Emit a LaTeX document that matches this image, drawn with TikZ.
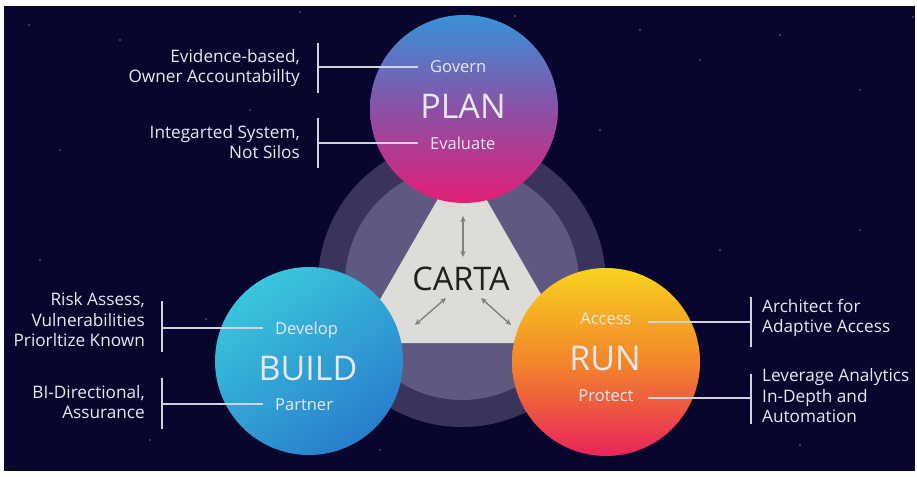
\documentclass[tikz,border=0pt]{standalone}
\usepackage{fontspec}
\setmainfont{Open Sans}
\usetikzlibrary{arrows.meta}
\definecolor{bg}{RGB}{9,6,46}
\definecolor{ringout}{RGB}{58,52,92}
\definecolor{ringin}{RGB}{95,88,128}
\definecolor{tri}{RGB}{221,220,214}
\definecolor{linec}{RGB}{210,210,222}
\definecolor{txt}{RGB}{232,232,240}
\definecolor{arr}{RGB}{128,128,128}
\definecolor{star}{RGB}{110,108,150}
\definecolor{planT}{RGB}{56,146,216}
\definecolor{planM}{RGB}{138,80,166}
\definecolor{planB}{RGB}{228,30,120}
\definecolor{buildT}{RGB}{58,198,220}
\definecolor{buildB}{RGB}{40,126,204}
\definecolor{runT}{RGB}{248,212,30}
\definecolor{runM}{RGB}{242,134,42}
\definecolor{runB}{RGB}{232,36,90}
\begin{document}
\begin{tikzpicture}[x=1pt,y=-1pt,
  bigc/.style={circle, minimum size=188pt, inner sep=0pt},
  bigtxt/.style={anchor=base, text=txt, inner sep=0pt, font=\fontsize{34}{34}\selectfont},
  lbl/.style={text=txt, inner sep=0pt, font=\fontsize{16.5}{20}\selectfont},
  side/.style={text=txt, inner sep=0pt, font=\fontsize{17.2}{20.5}\selectfont},
  conn/.style={draw=linec, line width=1.5pt},
  arrowc/.style={draw=arr, line width=1.4pt, {Stealth[length=6pt,width=5.5pt]}-{Stealth[length=6pt,width=5.5pt]}},
  stardot/.style={fill=star}
]
\useasboundingbox (0,0) rectangle (917,476);
\fill[white] (0,0) rectangle (917,476);
\fill[bg] (4,6) rectangle (915,471);
% stars
\foreach \sx/\sy in {29/25, 913/17, 515/16, 448/358, 206/319, 120/40, 300/12, 640/30, 700/60, 780/35, 860/90, 600/130, 250/110, 60/150, 40/260, 860/230, 720/250, 150/440, 800/445, 380/450}
  \fill[stardot] (\sx,\sy) circle[radius=0.9];
% background rings and triangle
\fill[ringout] (462,283) circle[radius=144];
\fill[ringin] (462,283) circle[radius=117];
\fill[tri] (462,157) -- (355,343) -- (569,343) -- cycle;
% centre
\node[anchor=base, inner sep=0pt, text=black!88, font=\fontsize{32.5}{32.5}\selectfont] (carta) at (461,290) {CARTA};
\coordinate (a1) at (463,216);
\coordinate (a2) at (463,257);
\coordinate (b1) at (446,298);
\coordinate (b2) at (415,325);
\coordinate (c1) at (481,298);
\coordinate (c2) at (511,325);
\draw[arrowc] (a1) -- (a2);
\draw[arrowc] (b1) -- (b2);
\draw[arrowc] (c1) -- (c2);
% circles
\node[bigc, top color=planT, bottom color=planB, middle color=planM] (plan) at (464,109) {};
\node[bigc, top color=buildT, bottom color=buildB, shading angle=35] (build) at (309,361) {};
\node[bigc, top color=runT, bottom color=runB, middle color=runM] (run) at (606,362) {};
% circle texts
\node[bigtxt] (plantxt) at (463,118) {PLAN};
\node[bigtxt] (buildtxt) at (308,380) {BUILD};
\node[bigtxt] (runtxt) at (605,370) {RUN};
\node[lbl, anchor=base west] (govern) at (430,73) {Govern};
\node[lbl, anchor=base west] (evaluate) at (430,149) {Evaluate};
\node[lbl, anchor=base west] (develop) at (275,334) {Develop};
\node[lbl, anchor=base west] (partner) at (275,410) {Partner};
\node[lbl, anchor=base] (access) at (606,324) {Access};
\node[lbl, anchor=base] (protect) at (606,401) {Protect};
% side texts
\node[side, anchor=east, align=right] (ev) at (300,68) {Evidence-based,\\Owner Accountabillty};
\node[side, anchor=east, align=right] (ig) at (300,142) {Integarted System,\\Not Silos};
\node[side, anchor=east, align=right] (risk) at (145,320) {Risk Assess,\\Vulnerabilities\\Priorltize Known};
\node[side, anchor=east, align=right] (bi) at (145,402) {BI-Directional,\\Assurance};
\node[side, anchor=west, align=left] (arch) at (762,318) {Architect for\\Adaptive Access};
\node[side, anchor=west, align=left] (lev) at (762,396) {Leverage Analytics\\In-Depth and\\Automation};
% bars
\coordinate (p1t) at (318,43);  \coordinate (p1b) at (318,93);  \coordinate (p1m) at (318,67);
\coordinate (p2t) at (318,118); \coordinate (p2b) at (318,168); \coordinate (p2m) at (318,143);
\coordinate (q1t) at (162,301); \coordinate (q1b) at (162,352); \coordinate (q1m) at (162,328);
\coordinate (q2t) at (162,378); \coordinate (q2b) at (162,429); \coordinate (q2m) at (162,404);
\coordinate (r1t) at (751,297); \coordinate (r1b) at (751,347); \coordinate (r1m) at (751,322);
\coordinate (r2t) at (751,374); \coordinate (r2b) at (751,424); \coordinate (r2m) at (751,398);
\draw[conn] (p1t) -- (p1b);
\draw[conn] (p2t) -- (p2b);
\draw[conn] (q1t) -- (q1b);
\draw[conn] (q2t) -- (q2b);
\draw[conn] (r1t) -- (r1b);
\draw[conn] (r2t) -- (r2b);
\draw[conn] (p1m) -- ([xshift=-12pt]govern.west |- p1m);
\draw[conn] (p2m) -- ([xshift=-12pt]evaluate.west |- p2m);
\draw[conn] (q1m) -- ([xshift=-12pt]develop.west |- q1m);
\draw[conn] (q2m) -- ([xshift=-12pt]partner.west |- q2m);
\draw[conn] (r1m) -- ([xshift=16pt]access.east |- r1m);
\draw[conn] (r2m) -- ([xshift=14pt]protect.east |- r2m);
\end{tikzpicture}
\end{document}
